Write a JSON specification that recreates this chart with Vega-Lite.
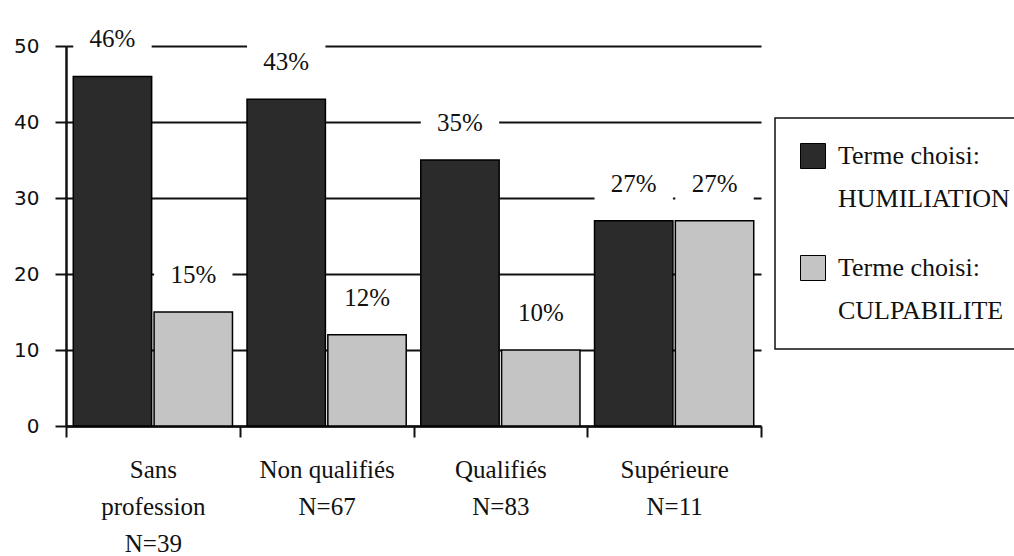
{
  "$schema": "https://vega.github.io/schema/vega-lite/v6.json",
  "width": 695,
  "height": 380,
  "autosize": {"type": "none"},
  "padding": {"left": 66, "top": 46, "right": 253, "bottom": 130},
  "background": "white",
  "config": {"view": {"stroke": null}, "legend": {"strokeWidth": 1.5}},
  "data": {
    "values": [
      {"cat": "Sans|profession|N=39", "terme": "Terme choisi:|HUMILIATION", "value": 46, "lab": "46%"},
      {"cat": "Sans|profession|N=39", "terme": "Terme choisi:|CULPABILITE", "value": 15, "lab": "15%"},
      {"cat": "Non qualifiés|N=67", "terme": "Terme choisi:|HUMILIATION", "value": 43, "lab": "43%"},
      {"cat": "Non qualifiés|N=67", "terme": "Terme choisi:|CULPABILITE", "value": 12, "lab": "12%"},
      {"cat": "Qualifiés|N=83", "terme": "Terme choisi:|HUMILIATION", "value": 35, "lab": "35%"},
      {"cat": "Qualifiés|N=83", "terme": "Terme choisi:|CULPABILITE", "value": 10, "lab": "10%"},
      {"cat": "Supérieure|N=11", "terme": "Terme choisi:|HUMILIATION", "value": 27, "lab": "27%"},
      {"cat": "Supérieure|N=11", "terme": "Terme choisi:|CULPABILITE", "value": 27, "lab": "27%"}
    ]
  },
  "encoding": {
    "x": {
      "field": "cat", "type": "nominal", "sort": null,
      "scale": {"paddingInner": 0, "paddingOuter": 0},
      "axis": {
        "title": null, "labelAngle": 0, "tickBand": "extent", "tickSize": 11, "tickWidth": 2,
        "tickColor": "#111", "domainWidth": 2.5, "domainColor": "#111",
        "labelFont": "Liberation Serif", "labelFontSize": 25, "labelLineHeight": 37,
        "labelPadding": 20, "labelColor": "#111",
        "labelExpr": "split(datum.label, '|')"
      }
    },
    "xOffset": {"field": "terme", "type": "nominal", "sort": null, "scale": {"paddingInner": 0.03, "paddingOuter": 0.09}},
    "y": {
      "field": "value", "type": "quantitative",
      "scale": {"domain": [0, 50], "nice": false},
      "axis": {
        "title": null, "values": [0, 10, 20, 30, 40, 50], "grid": true,
        "gridColor": "#111", "gridWidth": 2, "gridOpacity": 1,
        "domainColor": "#111", "domainWidth": 2.5, "tickColor": "#111", "tickWidth": 2, "tickSize": 11,
        "labelFont": "DejaVu Sans", "labelFontSize": 20, "labelColor": "#111", "labelPadding": 16
      }
    }
  },
  "layer": [
    {
      "mark": {"type": "point", "shape": "M-1,0H1V-1.46H-1Z", "size": 6147, "filled": true, "color": "white", "strokeWidth": 0, "opacity": 1}
    },
    {
      "mark": {"type": "bar", "stroke": "#000", "strokeWidth": 1.5},
      "encoding": {
        "color": {
          "field": "terme", "type": "nominal", "sort": null,
          "scale": {"range": ["#2b2b2b", "#c4c4c4"]},
          "legend": {
            "orient": "none", "legendX": 709, "legendY": 72, "title": null,
            "symbolType": "square", "symbolSize": 625, "symbolStrokeColor": "#000", "symbolStrokeWidth": 1,
            "labelFont": "Liberation Serif", "labelFontSize": 26, "labelColor": "#111",
            "labelExpr": "split(datum.label, '|')", "labelBaseline": "middle", "labelLimit": 400,
            "labelOffset": 12, "rowPadding": 41,
            "strokeColor": "#111", "fillColor": "white", "padding": 25,
            "encode": {"labels": {"update": {"lineHeight": {"value": 43}}}}
          }
        }
      }
    },
    {
      "mark": {"type": "text", "dy": -37, "font": "Liberation Serif", "fontSize": 25, "color": "#111"},
      "encoding": {"text": {"field": "lab"}}
    }
  ]
}
